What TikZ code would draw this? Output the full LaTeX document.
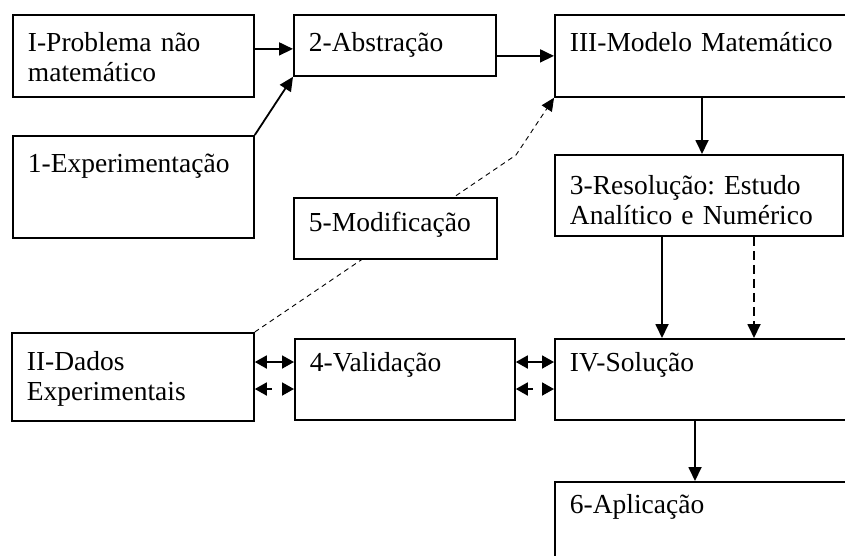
\documentclass[tikz,border=0pt]{standalone}
\usepackage{fontspec}
\setmainfont{Liberation Serif}
\usetikzlibrary{arrows.meta,calc}
\begin{document}
\begin{tikzpicture}[x=1pt,y=-1pt,
  box/.style={draw, line width=1.8pt, fill=white, rectangle, anchor=north west,
    inner sep=0pt, inner xsep=15pt, align=left,
    font=\fontsize{27.5pt}{30pt}\selectfont\frenchspacing},
  arr/.style={line width=1.8pt, -{Triangle[length=14pt,width=13pt]}},
  darr/.style={line width=1.8pt, {Triangle[length=12pt,width=13pt]}-{Triangle[length=12pt,width=13pt]}},
  ddarr/.style={darr, dash pattern=on 6pt off 20pt},
  varr/.style={arr, dash pattern=on 9pt off 5pt},
  modline/.style={line width=0.9pt, dash pattern=on 5pt off 4pt, -{Triangle[length=13pt,width=12pt]}}]
\fill[white] (0,0) rectangle (845,555);
\useasboundingbox (0,0) rectangle (845,555);

\node[box, text width=211pt, text height=37pt, text depth=45pt] (pI) at (12,14) {I-Problema não\\matemático};
\node[box, text width=211pt, text height=37pt, text depth=65pt] (p1) at (12,135) {1-Experimentação};
\node[box, text width=172pt, text height=37pt, text depth=24pt] (a2) at (293,14) {2-Abstração};
\node[box, text width=286pt, text height=37pt, text depth=45pt] (m3) at (554,14) {III-Modelo Matemático};
\node[box, text width=258pt, text height=40pt, text depth=41pt] (r3) at (554,154) {3-Resolução: Estudo\\Analítico e Numérico};
\node[box, text width=212pt, text height=38pt, text depth=50pt] (dII) at (11,332) {II-Dados\\Experimentais};
\node[box, text width=190pt, text height=33pt, text depth=48pt] (v4) at (294,338) {4-Validação};
\node[box, text width=286pt, text height=33pt, text depth=48pt] (sIV) at (554,338) {IV-Solução};
\node[box, text width=286pt, text height=32pt, text depth=77pt] (ap6) at (554,481) {6-Aplicação};

% dashed modification line (passes behind box 5)
\coordinate (bend) at (516,155);
\draw[modline] (dII.north east) -- (bend) -- (m3.south west);
\node[box, text width=173pt, text height=34pt, text depth=27pt] (mod5) at (293,197) {5-Modificação};

% connectors
\draw[arr] ([yshift=7pt]pI.east) -- ([yshift=7pt]pI.east -| a2.west);
\draw[arr] (p1.north east) -- (a2.south west);
\draw[arr] (a2.east |- m3.west) -- (m3.west);
\draw[arr] ($(m3.south west)+(148,0)$) -- ($(r3.north west)+(148,0)$);
\draw[arr] ($(r3.south west)+(108,0)$) -- ($(sIV.north west)+(108,0)$);
\draw[varr] ($(r3.south west)+(200,0)$) -- ($(sIV.north west)+(200,0)$);
\draw[arr] ($(sIV.south west)+(141,0)$) -- ($(ap6.north west)+(141,0)$);

\draw[darr] ($(dII.north east)+(0,30)$) -- ($(v4.north west)+(0,24)$);
\draw[ddarr] ($(dII.north east)+(0,57)$) -- ($(v4.north west)+(0,51)$);
\draw[darr] ($(v4.north east)+(0,24)$) -- ($(sIV.north west)+(0,24)$);
\draw[ddarr] ($(v4.north east)+(0,51)$) -- ($(sIV.north west)+(0,51)$);
\end{tikzpicture}
\end{document}
